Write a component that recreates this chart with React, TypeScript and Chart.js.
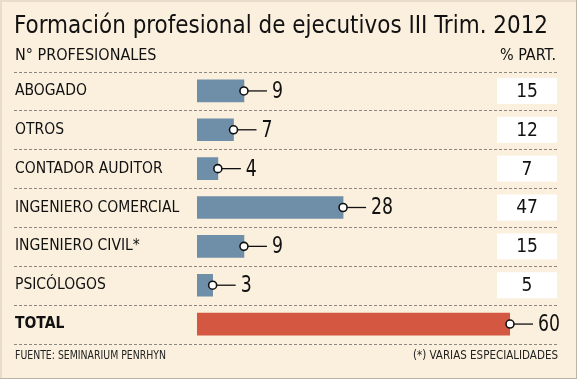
import React, { useEffect, useRef } from "react";
import { Chart, registerables } from "chart.js";

Chart.register(...registerables);

const title = "Formación profesional de ejecutivos III Trim. 2012";
const leftHeader = "N° PROFESIONALES";
const rightHeader = "% PART.";
const source = "FUENTE: SEMINARIUM PENRHYN";
const note = "(*) VARIAS ESPECIALIDADES";
const categories = [
  "ABOGADO",
  "OTROS",
  "CONTADOR AUDITOR",
  "INGENIERO COMERCIAL",
  "INGENIERO CIVIL*",
  "PSICÓLOGOS",
  "TOTAL",
];
const values = [9, 7, 4, 28, 9, 3, 60];
const shares: (number | null)[] = [15, 12, 7, 47, 15, 5, null];

const W = 581;
const H = 382;
const FONT = '"DejaVu Sans Condensed", "DejaVu Sans", sans-serif';
const BG = "#fbf0de";
const BLUE = "#6f8ea8";
const RED = "#d35741";

const decorPlugin = {
  id: "decor",
  beforeDraw(chart: any) {
    const ctx = chart.ctx;
    ctx.save();
    ctx.fillStyle = BG;
    ctx.fillRect(0, 0, W, H);
    // frame
    ctx.fillStyle = "#e9dccb";
    ctx.fillRect(0, 0, 577, 2);
    ctx.fillRect(0, 0, 2, 379);
    ctx.fillStyle = "#bdb3a6";
    ctx.fillRect(576, 0, 1, 379);
    ctx.fillRect(0, 378, 577, 1);
    ctx.fillStyle = "#ffffff";
    ctx.fillRect(577, 0, 4, H);
    ctx.fillRect(0, 379, W, 3);

    ctx.fillStyle = "#111";
    ctx.textBaseline = "middle";
    ctx.textAlign = "left";
    ctx.font = `24px ${FONT}`;
    ctx.fillText(title, 14, 27, 534);
    ctx.font = `16px ${FONT}`;
    ctx.fillText(leftHeader, 15, 56, 142);
    ctx.textAlign = "right";
    ctx.fillText(rightHeader, 556, 56, 59);

    ctx.font = `12px ${FONT}`;
    ctx.fillStyle = "#222";
    ctx.textAlign = "left";
    ctx.fillText(source, 15, 356, 151);
    ctx.textAlign = "right";
    ctx.fillText(note, 558, 356, 145);

    const y = chart.scales.y;
    const area = chart.chartArea;
    const n = categories.length;
    const step = (area.bottom - area.top) / n;
    // dashed separators
    ctx.strokeStyle = "#8c8880";
    ctx.lineWidth = 1;
    ctx.setLineDash([3, 2]);
    for (let i = 0; i <= n; i++) {
      const yy = Math.round(area.top + i * step) + 0.5;
      ctx.beginPath();
      ctx.moveTo(14, yy);
      ctx.lineTo(558, yy);
      ctx.stroke();
    }
    ctx.setLineDash([]);

    // category labels & share boxes
    categories.forEach((c, i) => {
      const cy = y.getPixelForValue(i);
      ctx.fillStyle = "#111";
      ctx.textAlign = "left";
      ctx.font = (i === n - 1 ? "bold " : "") + `15.5px ${FONT}`;
      ctx.fillText(c, 15, cy, 172);
      const s = shares[i];
      if (s !== null) {
        ctx.fillStyle = "#ffffff";
        ctx.fillRect(497, cy - 13, 60, 26);
        ctx.fillStyle = "#111";
        ctx.textAlign = "center";
        ctx.font = `19px ${FONT}`;
        ctx.fillText(String(s), 527, cy + 1);
      }
    });
    ctx.restore();
  },
  afterDatasetsDraw(chart: any) {
    const ctx = chart.ctx;
    const meta = chart.getDatasetMeta(0);
    ctx.save();
    meta.data.forEach((bar: any, i: number) => {
      const x = bar.x;
      const cy = bar.y;
      ctx.strokeStyle = "#111";
      ctx.lineWidth = 1.3;
      ctx.beginPath();
      ctx.moveTo(x + 4, cy);
      ctx.lineTo(x + 23, cy);
      ctx.stroke();
      ctx.beginPath();
      ctx.arc(x, cy, 4, 0, Math.PI * 2);
      ctx.fillStyle = "#fff";
      ctx.fill();
      ctx.lineWidth = 1.6;
      ctx.stroke();
      ctx.fillStyle = "#111";
      ctx.font = `23px ${FONT}`;
      ctx.textAlign = "left";
      ctx.textBaseline = "middle";
      const t = String(values[i]);
      ctx.fillText(t, x + 28, cy + 1, t.length * 11);
    });
    ctx.restore();
  },
};

export default function App() {
  const ref = useRef<HTMLCanvasElement>(null);
  useEffect(() => {
    document.body.style.margin = "0";
    const chart = new Chart(ref.current!, {
      type: "bar",
      data: {
        labels: categories,
        datasets: [
          {
            data: values,
            backgroundColor: values.map((_, i) => (i === values.length - 1 ? RED : BLUE)),
            barThickness: 22,
            borderWidth: 0,
          },
        ],
      },
      options: {
        indexAxis: "y",
        responsive: false,
        animation: false,
        events: [],
        layout: { padding: { left: 197, right: W - 510, top: 71.5, bottom: H - 343.5 } },
        plugins: { legend: { display: false }, tooltip: { enabled: false } },
        scales: {
          x: { display: false, min: 0, max: 60 },
          y: { display: false },
        },
      },
      plugins: [decorPlugin],
    });
    return () => chart.destroy();
  }, []);
  return (
    <div style={{ position: "absolute", left: 0, top: 0, width: W, height: H }}>
      <canvas ref={ref} width={W} height={H} style={{ width: W, height: H, display: "block" }} />
    </div>
  );
}
